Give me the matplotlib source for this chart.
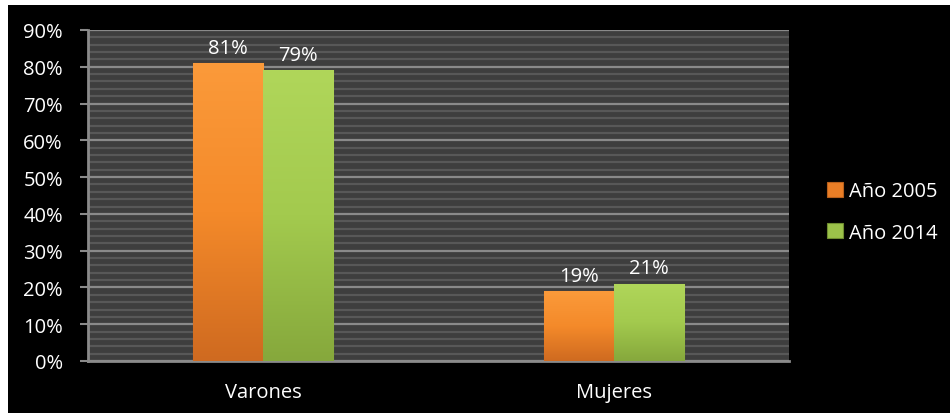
import matplotlib.pyplot as plt
import numpy as np
from matplotlib.patches import Rectangle
from matplotlib.colors import LinearSegmentedColormap
from matplotlib.ticker import MultipleLocator, FuncFormatter

categories = ['Varones', 'Mujeres']
series_names = ['Año 2005', 'Año 2014']
values_2005 = [81, 19]
values_2014 = [79, 21]

plt.rcParams['font.family'] = ['Open Sans', 'DejaVu Sans']

fig = plt.figure(figsize=(9.5, 4.14), dpi=100, facecolor='white')
# black panel behind the chart, leaving a thin white margin left and top
fig.patches.append(Rectangle((8 / 950, 0), 1, 1 - 6 / 414, transform=fig.transFigure,
                             facecolor='black', edgecolor='none', zorder=-10))

ax = fig.add_axes([88 / 950, 52 / 414, 701 / 950, 331 / 414])
ax.set_zorder(1)
ax.set_facecolor('#3e3e3e')

x = np.arange(len(categories))
width = 0.2

def gradient_bars(bars, top_color, mid_color, bottom_color, edge):
    cmap = LinearSegmentedColormap.from_list('g', [bottom_color, mid_color, top_color])
    grad = np.linspace(0, 1, 256).reshape(-1, 1)
    for b in bars:
        x0, y0 = b.get_x(), b.get_y()
        w, h = b.get_width(), b.get_height()
        im = ax.imshow(grad, cmap=cmap, origin='lower', aspect='auto',
                       extent=[x0, x0 + w, y0, y0 + h], zorder=3)
        im.set_clip_path(b)
        b.set_facecolor('none')
        b.set_edgecolor(edge)
        b.set_linewidth(0.8)
        # light bevel along the top of the bar
        ax.add_patch(Rectangle((x0 + w * 0.04, y0 + h - 1.2), w * 0.92, 0.9,
                               facecolor=top_color, edgecolor='none', alpha=0.6, zorder=4))

bars_a = ax.bar(x - width / 2, values_2005, width, label=series_names[0],
                color='#f28a2a', zorder=3)
bars_b = ax.bar(x + width / 2, values_2014, width, label=series_names[1],
                color='#a5cc50', zorder=3)
gradient_bars(bars_a, '#fb9a3a', '#f48a2a', '#cf6a20', '#b8601c')
gradient_bars(bars_b, '#b0d65a', '#a3ca4e', '#86a83c', '#6f8d30')

for bars, vals in [(bars_a, values_2005), (bars_b, values_2014)]:
    for b, v in zip(bars, vals):
        ax.text(b.get_x() + b.get_width() / 2, v + 1.5, f'{v}%', ha='center',
                va='bottom', color='white', fontsize=14.5)

ax.set_xlim(-0.5, 1.5)
ax.set_ylim(0, 90)
ax.yaxis.set_major_locator(MultipleLocator(10))
ax.yaxis.set_minor_locator(MultipleLocator(2))
ax.yaxis.set_major_formatter(FuncFormatter(lambda v, p: f'{int(v)}%'))
ax.grid(axis='y', which='major', color='#8a8a8a', linewidth=1.6, zorder=1)
ax.grid(axis='y', which='minor', color='#585858', linewidth=1.6, zorder=1)
ax.set_axisbelow(True)

ax.set_xticks(x)
ax.set_xticklabels(categories)
ax.tick_params(axis='x', length=0, pad=15, labelsize=14.5, colors='white')
ax.tick_params(axis='y', which='major', length=6, width=1.5, color='#8a8a8a',
               pad=12, labelsize=14.5, labelcolor='white')
ax.tick_params(axis='y', which='minor', length=0)

for side in ['top', 'right']:
    ax.spines[side].set_visible(False)
for side in ['left', 'bottom']:
    ax.spines[side].set_color('#8a8a8a')
    ax.spines[side].set_linewidth(2)

leg = ax.legend(loc='center left', bbox_to_anchor=(1.028, 0.45), frameon=False,
                fontsize=14.5, labelcolor='white', handlelength=0.8, handleheight=0.8,
                handletextpad=0.3, labelspacing=1.05)
leg.legend_handles[0].set_facecolor('#e97e26')
leg.legend_handles[1].set_facecolor('#9cc24a')

fig.savefig('out.png', dpi=100, facecolor='white')
